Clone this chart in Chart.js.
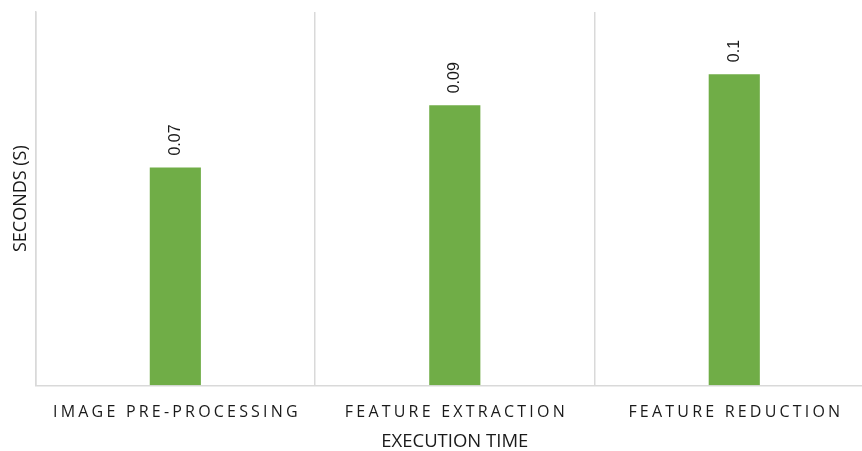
<!DOCTYPE html>
<html>
<head>
<meta charset="utf-8">
<script src="https://cdn.jsdelivr.net/npm/chart.js@4.4.1/dist/chart.umd.min.js"></script>
<style>
  html, body { margin: 0; padding: 0; background: #ffffff; overflow: hidden; }
  #wrap { width: 874px; height: 451px; }
</style>
</head>
<body>
<div id="wrap"><canvas id="c" width="874" height="451"></canvas></div>
<script>
const categories = ['IMAGE PRE-PROCESSING', 'FEATURE EXTRACTION', 'FEATURE REDUCTION'];
const seconds = [0.07, 0.09, 0.1];
const valueLabels = ['0.07', '0.09', '0.1'];
const xAxisTitle = 'EXECUTION TIME';
const yAxisTitle = 'SECONDS (S)';

const GRID = '#d9d9d9';

const spacedTicks = {
  id: 'spacedTicks',
  afterDraw(chart) {
    const xs = chart.scales.x;
    const ctx = chart.ctx;
    ctx.save();
    ctx.font = '16px "Open Sans"';
    ctx.fillStyle = '#1a1a1a';
    ctx.textAlign = 'center';
    ctx.textBaseline = 'alphabetic';
    ctx.letterSpacing = '3.2px';
    categories.forEach((lab, i) => {
      const x = xs.getPixelForTick(i) + 1.6;
      ctx.fillText(lab, x, chart.chartArea.bottom + 32);
    });
    ctx.restore();
  }
};

const barLabels = {
  id: 'barLabels',
  afterDatasetsDraw(chart) {
    const ctx = chart.ctx;
    const meta = chart.getDatasetMeta(0);
    ctx.save();
    ctx.font = '16px "Liberation Sans"';
    ctx.fillStyle = '#1a1a1a';
    ctx.textAlign = 'left';
    ctx.textBaseline = 'middle';
    meta.data.forEach((bar, i) => {
      ctx.save();
      ctx.translate(bar.x, bar.y - 12);
      ctx.rotate(-Math.PI / 2);
      ctx.fillText(valueLabels[i], 0, 0);
      ctx.restore();
    });
    ctx.restore();
  }
};

new Chart(document.getElementById('c'), {
  type: 'bar',
  data: {
    labels: categories,
    datasets: [{
      data: seconds,
      backgroundColor: '#70ad47',
      borderWidth: 0,
      barPercentage: 0.183,
      categoryPercentage: 1
    }]
  },
  options: {
    responsive: false,
    animation: false,
    layout: { padding: { top: 12, left: 10, right: 0, bottom: 0 } },
    plugins: { legend: { display: false }, tooltip: { enabled: false } },
    scales: {
      x: {
        grid: { display: true, offset: true, color: GRID, lineWidth: 1.5, drawTicks: false },
        border: { display: true, color: GRID, width: 1.5 },
        ticks: { color: 'rgba(0,0,0,0)', font: { family: 'Open Sans', size: 16 }, padding: 13 },
        title: { display: true, text: xAxisTitle, color: '#1a1a1a', font: { family: 'Open Sans', size: 18.5, lineHeight: 1.0 }, padding: { top: 2, bottom: 0 } }
      },
      y: {
        min: 0,
        max: 0.12,
        grid: { display: false, drawTicks: false },
        border: { display: true, color: GRID, width: 1.5 },
        ticks: { display: false },
        title: { display: true, text: yAxisTitle, color: '#1a1a1a', font: { family: 'Open Sans', size: 18 }, padding: { top: 0, bottom: 4 } }
      }
    }
  },
  plugins: [spacedTicks, barLabels]
});
</script>
</body>
</html>
